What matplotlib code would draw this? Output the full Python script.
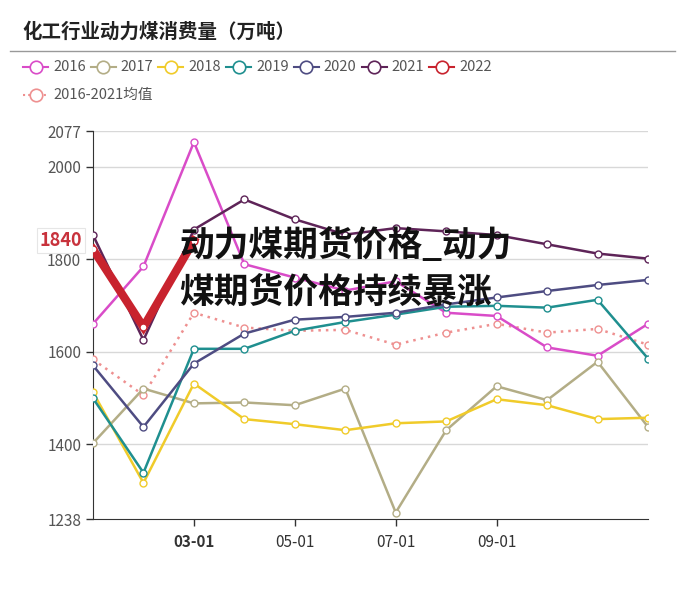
import matplotlib
matplotlib.use('Agg')
import matplotlib.pyplot as plt
from matplotlib.lines import Line2D

plt.rcParams['font.family'] = ['Noto Sans CJK SC', 'DejaVu Sans']

# 月份（12个点，横轴只标部分）
months = list(range(12))
tick_pos = [2, 4, 6, 8]
tick_labels = ['03-01', '05-01', '07-01', '09-01']

s2016 = [1660, 1784, 2053, 1789, 1760, 1732, 1752, 1684, 1677, 1609, 1591, 1660]
s2017 = [1402, 1520, 1488, 1490, 1484, 1520, 1252, 1430, 1525, 1495, 1578, 1437]
s2018 = [1512, 1316, 1531, 1454, 1443, 1430, 1445, 1449, 1497, 1484, 1454, 1457]
s2019 = [1499, 1338, 1606, 1606, 1645, 1664, 1680, 1697, 1699, 1695, 1712, 1585]
s2020 = [1570, 1437, 1574, 1639, 1669, 1675, 1684, 1702, 1717, 1731, 1744, 1755]
s2021 = [1852, 1625, 1864, 1929, 1886, 1853, 1867, 1860, 1852, 1832, 1812, 1801]
s2022 = [1821, 1653, 1840]
s_mean = [1583, 1506, 1684, 1652, 1645, 1647, 1615, 1641, 1660, 1641, 1649, 1615]

names = ['2016', '2017', '2018', '2019', '2020', '2021', '2022', '2016-2021均值']
colors = ['#d94cc8', '#b3ad86', '#f0cb2a', '#1f8f8f', '#4e4c82', '#5e2458', '#c8232e', '#ee9090']
series = [s2016, s2017, s2018, s2019, s2020, s2021, s2022, s_mean]

fig = plt.figure(figsize=(6.9, 5.98), dpi=100)
W, H = 690, 598
ax = fig.add_axes([93 / W, 1 - 519 / H, (648 - 93) / W, (519 - 131) / H])

for name, c, ys in zip(names, colors, series):
    xs = months[:len(ys)]
    if name == '2022':
        ax.plot(xs, ys, color=c, lw=6, solid_joinstyle='miter', zorder=6)
        ax.plot(xs, ys, ls='none', marker='o', ms=5, mfc='white', mec=c, mew=1, zorder=7)
    elif name.endswith('均值'):
        ax.plot(xs, ys, color=c, lw=1.8, ls=(0, (1, 2)), marker='o', ms=5,
                mfc='white', mec=c, mew=1, zorder=3)
    else:
        ax.plot(xs, ys, color=c, lw=1.8, marker='o', ms=5,
                mfc='white', mec=c, mew=1, zorder=4)

ax.set_xlim(0, 11)
ax.set_ylim(1238, 2077)
ax.set_yticks([1238, 1400, 1600, 1800, 2000, 2077])
ax.set_xticks(tick_pos)
ax.set_xticklabels(tick_labels)
for t in ax.get_xticklabels():
    if t.get_text() == '03-01':
        t.set_color('#c8323c')
        t.set_fontweight('bold')
        t.set_fontsize(12.5)
    else:
        t.set_color('#555555')
ax.tick_params(axis='y', colors='#333333', labelcolor='#555555', labelsize=11, length=5, width=1)
ax.tick_params(axis='x', colors='#333333', labelsize=11, length=5, width=1, pad=6)
for v in [1400, 1600, 1800, 2000, 2077]:
    ax.axhline(v, color='#d8d8d8', lw=1, zorder=1)
for s in ['top', 'right']:
    ax.spines[s].set_visible(False)
ax.spines['left'].set_color('#333333')
ax.spines['bottom'].set_color('#333333')

# 悬停提示标签
ax.text(-0.02, 1840, '1840', transform=ax.get_yaxis_transform(), ha='right', va='center',
        fontsize=13, fontweight='bold', color='#c8323c',
        bbox=dict(boxstyle='square,pad=0.15', fc='white', ec='#e6e6e6', lw=0.8))

# 标题
fig.text(22 / W, 1 - 32 / H, '化工行业动力煤消费量（万吨）', fontsize=14, fontweight='bold',
         color='#222222', va='center', ha='left')
fig.add_artist(Line2D([10 / W, 675 / W], [1 - 51 / H, 1 - 51 / H], color='#999999', lw=1))

# 图例
pos = [(23 + 67.7 * i, 67) for i in range(7)] + [(23, 95)]
for (px, py), name, c in zip(pos, names, colors):
    yy = 1 - py / H
    fig.add_artist(Line2D([px / W, (px + 25) / W], [yy, yy], color=c, lw=1.5,
                          ls=(0, (1, 1.5)) if name.endswith('均值') else '-'))
    fig.add_artist(Line2D([(px + 12.5) / W], [yy], marker='o', ms=9, mfc='white', mec=c, mew=1.2))
    fig.text((px + 30) / W, yy, name, fontsize=10.5, color='#555555', va='center', ha='left')

# 叠加大字
for txt, py in [('动力煤期货价格_动力', 245), ('煤期货价格持续暴涨', 292)]:
    fig.text(179 / W, 1 - py / H, txt, fontsize=25, fontweight='heavy', color='#111111',
             va='center', ha='left', zorder=10)

fig.savefig('out.png', dpi=100, facecolor='white')
